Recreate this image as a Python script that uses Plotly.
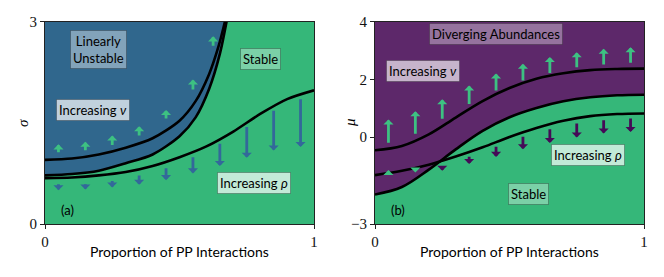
import plotly.graph_objects as go

# ---------------- data: panel (a) ----------------
pa_nu1_x = [0, 0.1, 0.2, 0.3, 0.4, 0.5, 0.56, 0.61, 0.645, 0.669]
pa_nu1_y = [0.95, 0.97, 1.03, 1.13, 1.27, 1.53, 1.82, 2.22, 2.63, 3.0]
pa_bnd_x = [0, 0.1, 0.2, 0.3, 0.4, 0.5, 0.56, 0.61, 0.65, 0.675]
pa_bnd_y = [0.72, 0.74, 0.79, 0.90, 1.03, 1.30, 1.58, 2.0, 2.52, 3.0]
pa_rho_x = [0, 0.1, 0.2, 0.3, 0.4, 0.5, 0.6, 0.7, 0.8, 0.9, 1.0]
pa_rho_y = [0.68, 0.69, 0.72, 0.77, 0.86, 0.99, 1.15, 1.37, 1.63, 1.85, 1.98]

pa_nuarr_x = [0.05, 0.15, 0.25, 0.35, 0.45, 0.55, 0.625]
pa_nuarr_tail = [1.04, 1.07, 1.15, 1.29, 1.54, 1.97, 2.62]
pa_nuarr_head = [1.18, 1.22, 1.31, 1.45, 1.69, 2.14, 2.78]
pa_rhoarr_x = [0.05, 0.15, 0.25, 0.35, 0.45, 0.55, 0.65, 0.75, 0.85, 0.95]
pa_rhoarr_tail = [0.61, 0.61, 0.66, 0.74, 0.85, 1.01, 1.21, 1.46, 1.70, 1.87]
pa_rhoarr_head = [0.50, 0.51, 0.54, 0.58, 0.65, 0.75, 0.86, 0.98, 1.09, 1.14]

# ---------------- data: panel (b) ----------------
pb_x = [0, 0.1, 0.2, 0.3, 0.4, 0.5, 0.6, 0.7, 0.8, 0.9, 1.0]
pb_nu_y = [-0.45, -0.30, 0.10, 0.68, 1.25, 1.70, 2.02, 2.21, 2.32, 2.36, 2.37]
pb_bnd_y = [-1.98, -1.72, -1.12, -0.42, 0.22, 0.69, 1.01, 1.24, 1.38, 1.45, 1.47]
pb_rho_y = [-1.31, -1.16, -0.95, -0.67, -0.35, 0.01, 0.32, 0.57, 0.73, 0.80, 0.82]

pb_arr_x = [0.05, 0.15, 0.25, 0.35, 0.45, 0.55, 0.65, 0.75, 0.85, 0.95]
pb_nuarr_tail = [-0.24, 0.07, 0.59, 1.10, 1.56, 1.91, 2.17, 2.37, 2.46, 2.52]
pb_nuarr_head = [0.61, 0.90, 1.31, 1.79, 2.20, 2.54, 2.77, 2.94, 3.06, 3.11]
pb_rhoarr_tail = [-1.24, -1.13, -0.97, -0.62, -0.28, 0.07, 0.33, 0.53, 0.64, 0.70]
pb_rhoarr_head = [-1.13, -1.22, -1.16, -0.93, -0.68, -0.42, -0.20, -0.01, 0.13, 0.18]

xticks = [0, 1]
pa_yticks = [0, 3]
pb_yticks = [-3, 0, 2, 4]
pb_yticklabels = ["\u22123", "0", "2", "4"]

# ---------------- styles ----------------
GREEN = "#35b779"
GREEN_ARR = "#3dc182"
BLUE = "#30678d"
BLUE_ARR = "#33689a"
PURPLE = "#5d286a"
PURPLE_ARR = "#450a57"
SANS = "Lato, DejaVu Sans, sans-serif"
SERIF = "Liberation Serif, DejaVu Serif, serif"

# page body has an 8px margin: figure is drawn 8px in from the window edge
W, H, OFF = 656, 269, 8


def px(x):
    return (x - OFF) / W


def py(y):
    return 1 - (y - OFF) / H


fig = go.Figure()

# panel (a) blue region
fig.add_trace(go.Scatter(x=[pa_bnd_x[0], pa_bnd_x[-1]], y=[3, 3], mode="lines",
                         line=dict(width=0), xaxis="x", yaxis="y",
                         showlegend=False, hoverinfo="skip"))
fig.add_trace(go.Scatter(x=pa_bnd_x, y=pa_bnd_y, mode="lines", fill="tonexty",
                         fillcolor=BLUE, line=dict(width=0, shape="spline"),
                         xaxis="x", yaxis="y", showlegend=False, hoverinfo="skip"))
for xs, ys in [(pa_nu1_x, pa_nu1_y), (pa_bnd_x, pa_bnd_y), (pa_rho_x, pa_rho_y)]:
    fig.add_trace(go.Scatter(x=xs, y=ys, mode="lines",
                             line=dict(color="black", width=2.6, shape="spline",
                                       smoothing=0.8),
                             xaxis="x", yaxis="y", showlegend=False, hoverinfo="skip"))

# panel (b) purple region
fig.add_trace(go.Scatter(x=[pb_x[0], pb_x[-1]], y=[4, 4], mode="lines",
                         line=dict(width=0), xaxis="x2", yaxis="y2",
                         showlegend=False, hoverinfo="skip"))
fig.add_trace(go.Scatter(x=pb_x, y=pb_bnd_y, mode="lines", fill="tonexty",
                         fillcolor=PURPLE, line=dict(width=0, shape="spline"),
                         xaxis="x2", yaxis="y2", showlegend=False, hoverinfo="skip"))
for ys in [pb_nu_y, pb_bnd_y, pb_rho_y]:
    fig.add_trace(go.Scatter(x=pb_x, y=ys, mode="lines",
                             line=dict(color="black", width=2.6, shape="spline"),
                             xaxis="x2", yaxis="y2", showlegend=False, hoverinfo="skip"))

annotations = []


def arrow(xr, yr, x, tail, head, color):
    annotations.append(dict(x=x, y=head, ax=x, ay=tail, xref=xr, yref=yr,
                            axref=xr, ayref=yr, text="", showarrow=True,
                            arrowhead=1, arrowsize=0.6, arrowwidth=2.8,
                            arrowcolor=color, standoff=0, startstandoff=0))


for x, t, h in zip(pa_nuarr_x, pa_nuarr_tail, pa_nuarr_head):
    arrow("x", "y", x, t, h, GREEN_ARR)
for x, t, h in zip(pa_rhoarr_x, pa_rhoarr_tail, pa_rhoarr_head):
    arrow("x", "y", x, t, h, BLUE_ARR)
for x, t, h in zip(pb_arr_x, pb_nuarr_tail, pb_nuarr_head):
    arrow("x2", "y2", x, t, h, GREEN_ARR)
for i, (x, t, h) in enumerate(zip(pb_arr_x, pb_rhoarr_tail, pb_rhoarr_head)):
    arrow("x2", "y2", x, t, h, GREEN_ARR if i < 2 else PURPLE_ARR)


def label(xr, yr, x, y, text, alpha, size=13):
    annotations.append(dict(x=x, y=y, xref=xr, yref=yr, text=text, showarrow=False,
                            xanchor="center", yanchor="middle",
                            font=dict(family=SANS, size=size, color="black"),
                            bgcolor=f"rgba(255,255,255,{alpha})",
                            bordercolor="rgba(40,40,40,0.35)", borderwidth=1,
                            borderpad=2))


label("x", "y", 0.20, 2.58, "Linearly<br>Unstable", 0.4)
label("x", "y", 0.80, 2.45, "Stable", 0.35)
label("x", "y", 0.18, 1.69, "Increasing <i>\u03bd</i>", 0.7)
label("x", "y", 0.777, 0.61, "Increasing <i>\u03c1</i>", 0.7)
label("x2", "y2", 0.45, 3.56, "Diverging Abundances", 0.35)
label("x2", "y2", 0.179, 2.28, "Increasing <i>\u03bd</i>", 0.65)
label("x2", "y2", 0.79, -0.60, "Increasing <i>\u03c1</i>", 0.7)
label("x2", "y2", 0.571, -1.96, "Stable", 0.35)

annotations.append(dict(x=0.085, y=0.21, xref="x", yref="y", text="(a)", showarrow=False,
                        xanchor="center", yanchor="middle",
                        font=dict(family=SANS, size=13, color="black")))
annotations.append(dict(x=0.086, y=-2.52, xref="x2", yref="y2", text="(b)", showarrow=False,
                        xanchor="center", yanchor="middle",
                        font=dict(family=SANS, size=13, color="black")))

# axis titles
for xc in [(45 + 314) / 2, (375 + 644) / 2]:
    annotations.append(dict(x=px(xc), y=py(251), xref="paper", yref="paper",
                            xanchor="center", yanchor="middle",
                            text="Proportion of PP Interactions", showarrow=False,
                            font=dict(family=SANS, size=14, color="black")))
annotations.append(dict(x=px(23), y=py(123), xref="paper", yref="paper",
                        xanchor="center", yanchor="middle",
                        text="<i>\u03c3</i>", showarrow=False, textangle=-90,
                        font=dict(family=SERIF, size=15, color="black")))
annotations.append(dict(x=px(350), y=py(123), xref="paper", yref="paper",
                        xanchor="center", yanchor="middle",
                        text="<i>\u03bc</i>", showarrow=False, textangle=-90,
                        font=dict(family=SERIF, size=15, color="black")))

axis_common = dict(showline=True, linecolor="#222", linewidth=1, mirror=True,
                   ticks="outside", ticklen=4, tickcolor="#222", showgrid=False,
                   zeroline=False, automargin=False,
                   tickfont=dict(family=SERIF, size=15, color="#111"))

ydom = [py(224), py(21.5)]
fig.update_layout(
    width=W, height=H, margin=dict(l=0, r=0, t=0, b=0),
    paper_bgcolor="white", plot_bgcolor=GREEN,
    xaxis=dict(domain=[px(45), px(314)], range=[0, 1], tickvals=xticks,
               ticktext=[str(v) for v in xticks], anchor="y", **axis_common),
    yaxis=dict(domain=ydom, range=[0, 3], tickvals=pa_yticks,
               ticktext=[str(v) for v in pa_yticks], anchor="x", **axis_common),
    xaxis2=dict(domain=[px(375), px(644)], range=[0, 1], tickvals=xticks,
                ticktext=[str(v) for v in xticks], anchor="y2", **axis_common),
    yaxis2=dict(domain=ydom, range=[-3, 4], tickvals=pb_yticks,
                ticktext=pb_yticklabels, anchor="x2", **axis_common),
    annotations=annotations,
    showlegend=False,
)

fig.write_html("out.html")
